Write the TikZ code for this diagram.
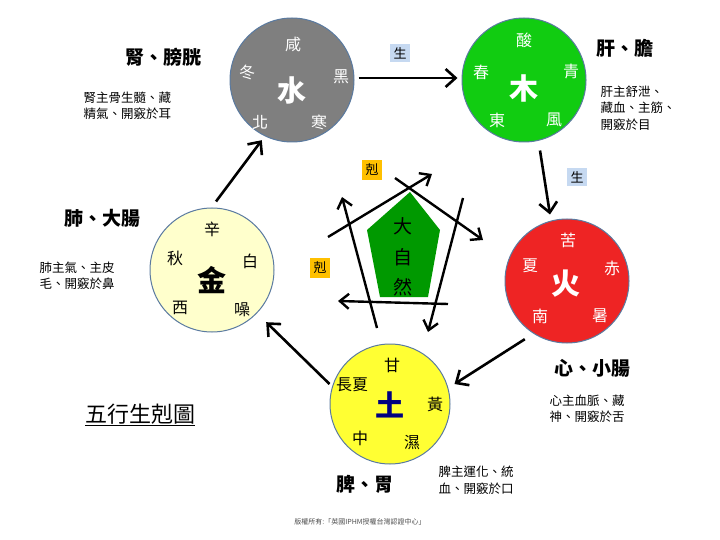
\documentclass[tikz,border=0pt]{standalone}
\usepackage{fontspec}
\setmainfont{Noto Sans CJK TC}
\usetikzlibrary{arrows.meta,calc}
\definecolor{watergray}{HTML}{7F7F7F}
\definecolor{woodgreen}{HTML}{11CC11}
\definecolor{firered}{HTML}{EE2424}
\definecolor{earthyellow}{HTML}{FFFF33}
\definecolor{metalcream}{HTML}{FFFFCC}
\definecolor{ringblue}{HTML}{5A7AA0}
\definecolor{kebox}{HTML}{FFC000}
\definecolor{shengbox}{HTML}{C6D9F1}
\begin{document}
\begin{tikzpicture}[x=1pt, y=-1pt,
    element/.style={circle, draw=ringblue, line width=1pt, minimum size=124pt, inner sep=0pt},
    big/.style={font=\fontsize{29}{29}\selectfont\bfseries},
    small/.style={font=\fontsize{16}{16}\selectfont},
    organ/.style={font=\fontsize{19}{19}\selectfont\bfseries},
    note/.style={font=\fontsize{12.5}{16.5}\selectfont, align=left, anchor=west},
    sheng/.style={line width=2.6pt, -{Straight Barb[length=10pt,width=18pt]}},
    ke/.style={line width=2.4pt, -{Straight Barb[length=9pt,width=15pt]}},
    tagbox/.style={font=\fontsize{13}{13}\selectfont, inner sep=3.5pt},
    ]
\useasboundingbox (0,0) rectangle (720,540);

% Elements
\node[element, fill=watergray] (shui) at (292,80) {};
\node[element, fill=woodgreen] (mu) at (524,80) {};
\node[element, fill=firered] (huo) at (567,281) {};
\node[element, fill=earthyellow, minimum size=120pt] (tu) at (390,404) {};
\node[element, fill=metalcream] (jin) at (212,270) {};

% Water
\begin{scope}[text=white]
\node[small] (s1) at (293,44) {咸};
\node[small] (s2) at (247,72) {冬};
\node[big] (s3) at (292,90) {水};
\node[small] (s4) at (341,77) {黑};
\node[small] (s5) at (260,122) {北};
\node[small] (s6) at (319,122) {寒};
% Wood
\node[small] (m1) at (524,40) {酸};
\node[small] (m2) at (481,72) {春};
\node[big] (m3) at (524,88) {木};
\node[small] (m4) at (571,72) {青};
\node[small] (m5) at (497,120) {東};
\node[small] (m6) at (554,120) {風};
% Fire
\node[small] (h1) at (568,240) {苦};
\node[small] (h2) at (530,266) {夏};
\node[big] (h3) at (566,284) {火};
\node[small] (h4) at (612,268) {赤};
\node[small] (h5) at (540,316) {南};
\node[small] (h6) at (600,316) {暑};
\end{scope}
% Earth
\node[small] (t1) at (392,365) {甘};
\node[small] (t2) at (352,385) {長夏};
\node[big, text=blue!50!black] (t3) at (390,405) {土};
\node[small] (t4) at (435,404) {黃};
\node[small] (t5) at (360,438) {中};
\node[small] (t6) at (412,443) {濕};
% Metal
\node[small] (j1) at (212,229) {辛};
\node[small] (j2) at (175,258) {秋};
\node[big] (j3) at (212,280) {金};
\node[small] (j4) at (250,261) {白};
\node[small] (j5) at (180,308) {西};
\node[small] (j6) at (242,310) {噪};

% Generating cycle
\draw[sheng] ($(shui.east)+(4,-2)$) -- ($(mu.west)+(-4,-2)$);
\draw[sheng] ($(mu.south)+(16,8)$) -- ($(huo.north)+(-17,-4)$);
\draw[sheng] ($(huo.south west)+(2,14)$) -- ($(tu.east)+(4,-20)$);
\draw[sheng] ($(tu.west)+(0,-20)$) -- ($(jin.south east)+(10,8)$);
\draw[sheng] ($(jin.north)+(4,-6)$) -- ($(shui.south west)+(14,16)$);
\node[tagbox, fill=shengbox] (g1) at (400,53) {生};
\node[tagbox, fill=shengbox] (g2) at (577,177) {生};

% Nature pentagon
\fill[green!60!black] (410,192) -- (440,230) -- (428,297) -- (380,297) -- (367,230) -- cycle;
\node[font=\fontsize{19}{19}\selectfont] (d1) at (403,226) {大};
\node[font=\fontsize{19}{19}\selectfont] (d2) at (403,257) {自};
\node[font=\fontsize{19}{19}\selectfont] (d3) at (403,287) {然};

% Controlling star
\coordinate (k1a) at (328,237); \coordinate (k1b) at (432,174);
\coordinate (k2a) at (395,178); \coordinate (k2b) at (483,240);
\coordinate (k3a) at (463,198); \coordinate (k3b) at (428,332);
\coordinate (k4a) at (448,304); \coordinate (k4b) at (338,301);
\coordinate (k5a) at (377,328); \coordinate (k5b) at (342,197);
\foreach \k in {1,...,5} {
    \draw[ke] (k\k a) -- (k\k b);
}
\node[tagbox, fill=kebox] (c1) at (372,170) {剋};
\node[tagbox, fill=kebox] (c2) at (320,268) {剋};

% Organs
\node[organ] (o1) at (163,57) {腎、膀胱};
\node[note] (n1) at (80,106) {腎主骨生髓、藏\\精氣、開竅於耳};
\node[organ] (o2) at (625,48) {肝、膽};
\node[note] (n2) at (597,108) {肝主舒泄、\\藏血、主筋、\\開竅於目};
\node[organ] (o3) at (102,218) {肺、大腸};
\node[note] (n3) at (36,276) {肺主氣、主皮\\毛、開竅於鼻};
\node[organ] (o4) at (592,368) {心、小腸};
\node[note] (n4) at (546,409) {心主血脈、藏\\神、開竅於舌};
\node[organ] (o5) at (365,484) {脾、胃};
\node[note] (n5) at (435,480) {脾主運化、統\\血、開竅於口};

% Title
\node[font=\fontsize{22}{22}\selectfont] (ttl) at (140,415) {\underline{五行生剋圖}};
\node[font=\fontsize{7}{7}\selectfont, text=black!70] (cr) at (360,522) {版權所有:「英國IPHM授權台灣認證中心」};
\end{tikzpicture}
\end{document}
